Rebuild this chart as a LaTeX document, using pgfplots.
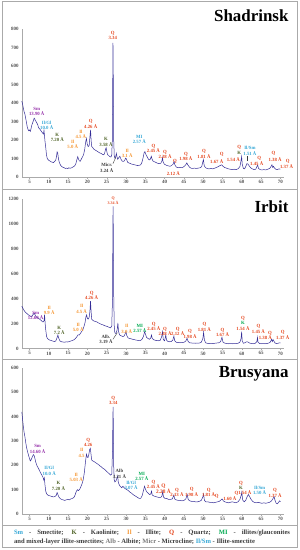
\documentclass[border=0pt]{standalone}
\usepackage{fontspec}
\setmainfont{Liberation Serif}
\usepackage{pgfplots}
\pgfplotsset{compat=1.18}
\definecolor{cLine}{RGB}{52,44,150}
\definecolor{cQ}{RGB}{229,72,32}
\definecolor{cSm}{RGB}{150,50,170}
\definecolor{cCy}{RGB}{55,168,214}
\definecolor{cK}{RGB}{80,100,40}
\definecolor{cIl}{RGB}{245,150,50}
\definecolor{cMI}{RGB}{0,170,80}
\definecolor{cDk}{RGB}{60,60,60}
\definecolor{cAlb}{RGB}{120,120,120}
\definecolor{frame}{RGB}{170,170,170}
\definecolor{axgray}{RGB}{170,170,170}
\definecolor{tickgray}{RGB}{80,80,80}
\pgfplotsset{xrd/.style={scale only axis, width=262.5bp, xmin=3, xmax=71, ymin=0,
  axis x line*=bottom, axis y line*=left,
  axis line style={draw=axgray, line width=0.5bp},
  xtick={5,10,...,70}, tick align=outside, major tick length=2bp,
  xtick style={draw=axgray, line width=0.4bp}, ytick style={draw=none},
  ticklabel style={font=\fontsize{5}{6}\selectfont\bfseries, text=tickgray, inner sep=1bp},
  /pgf/number format/assume math mode=true, /pgf/number format/1000 sep={}, clip=false}}
\tikzset{lbl/.style={align=center, inner sep=0pt, font=\fontsize{4.8}{5.5}\selectfont\bfseries}}
\newcommand{\lab}[5]{\node[lbl,text=#3] at (axis cs:#1,#2) {#4\\#5};}
\newcommand{\labi}[4]{\node[lbl,text=#3] at (axis cs:#1,#2) {#4};}
\begin{document}
\begin{tikzpicture}
\path[use as bounding box] (0,0) rectangle (300bp,550bp);
\draw[frame, line width=0.8bp] (2.5bp,2.5bp) rectangle (297.5bp,548.5bp);
\draw[frame, line width=0.8bp] (2.5bp,361bp) -- (297.5bp,361bp);
\draw[frame, line width=0.8bp] (2.5bp,190.5bp) -- (297.5bp,190.5bp);
\draw[frame, line width=0.8bp] (2.5bp,25bp) -- (297.5bp,25bp);
\node[anchor=base east, font=\fontsize{17}{20}\selectfont\bfseries] at (292bp,528.5bp) {Shadrinsk};
\node[anchor=base east, font=\fontsize{17}{20}\selectfont\bfseries] at (292bp,337.3bp) {Irbit};
\node[anchor=base east, font=\fontsize{17}{20}\selectfont\bfseries] at (292bp,172bp) {Brusyana};
% ---------------- Shadrinsk
\begin{axis}[xrd, at={(21.8bp,373bp)}, anchor=south west, height=148bp, ymax=800, ytick={0,100,...,800}]
\addplot[cLine, line width=0.5bp] coordinates {
(3.0,410)(3.2,395)(3.4,372)(3.6,352)(3.8,340)(4.0,318)(4.2,296)(4.4,272)(4.6,258)(4.8,250)
(5.0,254)(5.2,246)(5.4,262)(5.6,281)(5.8,292)(6.0,305)(6.2,318)(6.35,314)(6.5,305)(6.7,300)
(6.9,292)(7.1,284)(7.3,270)(7.5,262)(7.7,258)(7.9,252)(8.1,246)(8.3,240)(8.45,236)(8.6,232)
(8.75,252)(8.85,230)(9.0,195)(9.2,160)(9.4,118)(9.6,100)(9.8,94)(10.0,90)(10.3,86)(10.6,82)
(10.9,80)(11.2,78)(11.5,84)(11.8,92)(12.0,112)(12.15,136)(12.3,130)(12.5,98)(12.7,80)(12.9,70)
(13.1,62)(13.4,56)(13.7,52)(14.0,50)(14.3,46)(14.6,48)(14.9,45)(15.2,50)(15.5,47)(15.8,49)
(16.1,52)(16.4,56)(16.7,60)(17.0,72)(17.3,96)(17.5,110)(17.7,96)(17.9,88)(18.1,84)(18.4,96)
(18.7,108)(19.0,120)(19.3,150)(19.55,190)(19.75,208)(19.95,178)(20.2,164)(20.45,170)(20.7,230)(20.82,254)
(20.95,200)(21.1,165)(21.4,158)(21.7,150)(22.0,146)(22.3,142)(22.6,138)(22.9,134)(23.2,130)(23.5,128)
(23.8,124)(24.1,120)(24.4,124)(24.7,150)(24.85,158)(25.0,140)(25.2,122)(25.5,116)(25.8,110)(26.1,108)
(26.3,120)(26.45,200)(26.55,500)(26.62,725)(26.72,480)(26.82,190)(26.95,115)(27.1,102)(27.3,108)(27.5,128)
(27.65,110)(27.85,96)(28.1,104)(28.4,112)(28.7,96)(29.0,86)(29.3,84)(29.6,88)(29.9,102)(30.1,98)
(30.4,80)(30.7,76)(31.0,74)(31.4,70)(31.8,68)(32.2,66)(32.6,64)(33.0,62)(33.4,63)(33.8,66)
(34.1,78)(34.4,102)(34.7,132)(34.9,137)(35.1,124)(35.4,112)(35.7,100)(36.0,92)(36.3,96)(36.55,112)
(36.75,96)(37.0,86)(37.4,82)(37.8,78)(38.2,74)(38.6,72)(39.0,74)(39.3,86)(39.45,104)(39.6,82)
(39.9,70)(40.2,66)(40.6,62)(41.0,60)(41.4,58)(41.8,62)(42.2,70)(42.45,84)(42.65,66)(43.0,54)
(43.5,50)(44.0,52)(44.5,50)(45.0,56)(45.4,64)(45.75,76)(46.0,66)(46.4,54)(46.8,48)(47.2,46)
(47.7,48)(48.2,46)(48.7,48)(49.2,50)(49.6,56)(49.85,78)(50.05,94)(50.25,62)(50.6,50)(51.0,46)
(51.5,44)(52.0,46)(52.5,44)(53.0,48)(53.5,52)(54.0,58)(54.4,62)(54.8,66)(55.1,58)(55.5,52)
(56.0,48)(56.5,44)(57.0,42)(57.5,40)(58.0,42)(58.5,40)(59.0,44)(59.5,56)(59.8,90)(59.95,110)
(60.1,70)(60.4,46)(60.7,44)(61.0,56)(61.3,72)(61.6,70)(61.9,60)(62.3,50)(62.7,44)(63.2,40)
(63.6,42)(63.9,56)(64.1,64)(64.3,48)(64.7,40)(65.2,38)(65.7,40)(66.2,38)(66.7,42)(67.2,46)
(67.6,58)(67.8,66)(68.0,52)(68.2,58)(68.4,50)(68.8,42)(69.2,40)(69.6,44)(70.0,42)};
\lab{26.55}{765}{cQ}{Q}{3.34}
\lab{6.87}{354}{cSm}{Sm}{13.90 Å}
\lab{9.45}{279}{cCy}{Il/Gl}{10.0 Å}
\lab{12.2}{213}{cK}{K}{7.20 Å}
\lab{16.2}{177}{cIl}{Il}{5.0 Å}
\lab{18.3}{231}{cIl}{Il}{4.5 Å}
\lab{20.85}{287}{cQ}{Q}{4.26 Å}
\lab{24.8}{190}{cK}{K}{3.58 Å}
\lab{25.0}{50}{cDk}{Micr.}{3.24 Å}
\draw[cDk, line width=0.4bp] (axis cs:26.6,72) -- (axis cs:27.4,108);
\lab{30.3}{127}{cIl}{Il}{3.1 Å}
\lab{33.45}{204}{cCy}{MI}{2.57 Å}
\lab{37.1}{155}{cQ}{Q}{2.45 Å}
\lab{40.1}{123}{cQ}{Q}{2.28 Å}
\labi{42.7}{85}{cQ}{Q}
\labi{42.25}{16}{cQ}{2.12 Å}
\lab{45.5}{112}{cQ}{Q}{1.98 Å}
\lab{50.2}{125}{cQ}{Q}{1.81 Å}
\labi{54.8}{123}{cQ}{Q}
\labi{53.5}{86}{cQ}{1.67 Å}
\labi{59.35}{158}{cQ}{Q}
\labi{59.35}{128}{cK}{K}
\labi{57.8}{92}{cQ}{1.54 Å}
\labi{62.1}{158}{cCy}{Il/Sm}
\labi{62.1}{128}{cCy}{1.51 Å}
\draw[cDk, line width=0.4bp] (axis cs:61.4,112) -- (axis cs:61.4,84);
\labi{64.5}{101}{cQ}{Q}
\labi{63.85}{70}{cQ}{1.45 Å}
\labi{68.2}{128}{cQ}{Q}
\labi{68.6}{92}{cQ}{1.38 Å}
\labi{71.9}{86}{cQ}{Q}
\labi{71.6}{56}{cQ}{1.37 Å}
\end{axis}
% ---------------- Irbit
\begin{axis}[xrd, at={(21.8bp,201.5bp)}, anchor=south west, height=149.5bp, ymax=1200, ytick={0,200,...,1200}]
\addplot[cLine, line width=0.5bp] coordinates {
(3.0,340)(3.3,322)(3.6,305)(3.9,292)(4.2,284)(4.5,276)(4.8,268)(5.1,262)(5.4,256)(5.7,262)
(6.0,276)(6.2,284)(6.4,272)(6.7,256)(7.0,248)(7.3,242)(7.6,236)(7.9,228)(8.2,220)(8.5,212)
(8.75,222)(8.9,272)(9.05,200)(9.2,150)(9.4,100)(9.6,82)(9.9,74)(10.2,68)(10.6,64)(11.0,60)
(11.4,56)(11.8,60)(12.1,84)(12.35,108)(12.6,80)(12.9,60)(13.3,54)(13.7,52)(14.1,50)(14.5,54)
(14.9,52)(15.3,56)(15.7,60)(16.1,64)(16.5,70)(16.9,80)(17.3,96)(17.6,110)(17.9,108)(18.2,122)
(18.5,136)(18.8,150)(19.1,176)(19.4,210)(19.6,252)(19.8,270)(20.0,240)(20.2,236)(20.45,250)(20.65,300)
(20.8,380)(20.95,300)(21.1,236)(21.4,226)(21.7,220)(22.0,218)(22.4,214)(22.8,206)(23.2,200)(23.6,194)
(24.0,190)(24.4,184)(24.8,180)(25.2,176)(25.6,170)(26.0,166)(26.3,180)(26.5,400)(26.6,1000)(26.65,1140)
(26.72,900)(26.8,450)(26.95,180)(27.1,126)(27.4,120)(27.7,150)(27.9,205)(28.05,140)(28.3,110)(28.6,104)
(28.9,100)(29.2,96)(29.5,100)(29.8,120)(30.0,135)(30.2,104)(30.5,86)(30.9,80)(31.3,78)(31.7,74)
(32.1,72)(32.5,68)(32.9,66)(33.3,64)(33.7,64)(34.1,72)(34.5,96)(34.8,134)(35.0,120)(35.3,90)
(35.7,80)(36.1,74)(36.4,84)(36.6,108)(36.8,80)(37.2,70)(37.6,66)(38.0,64)(38.4,62)(38.8,64)
(39.2,90)(39.45,135)(39.65,72)(40.0,62)(40.3,108)(40.5,66)(40.9,56)(41.3,54)(41.7,56)(42.1,66)
(42.4,100)(42.6,62)(43.0,50)(43.5,48)(44.0,46)(44.5,48)(45.0,50)(45.5,60)(45.8,82)(46.1,56)
(46.5,46)(47.0,44)(47.5,44)(48.0,42)(48.5,44)(49.0,44)(49.5,50)(49.9,80)(50.1,130)(50.3,70)
(50.6,46)(51.0,42)(51.5,40)(52.0,42)(52.5,40)(53.0,42)(53.5,44)(54.0,46)(54.5,54)(54.85,90)
(55.1,52)(55.5,44)(56.0,40)(56.5,38)(57.0,40)(57.5,38)(58.0,40)(58.5,40)(59.0,42)(59.5,50)
(59.8,80)(59.95,135)(60.1,62)(60.4,42)(60.8,46)(61.2,54)(61.6,52)(62.0,44)(62.5,40)(63.0,38)
(63.5,42)(63.9,56)(64.05,90)(64.2,50)(64.6,40)(65.0,38)(65.5,40)(66.0,38)(66.5,40)(67.0,44)
(67.4,52)(67.7,74)(67.9,56)(68.1,72)(68.3,60)(68.6,44)(69.0,40)(69.4,42)(69.8,46)(70.0,44)};
\node[lbl, text=cQ, font=\fontsize{4}{4.6}\selectfont\bfseries] at (axis cs:26.65,1185) {Q\\3.34 Å};
\lab{6.6}{264}{cSm}{Sm}{12.60 Å}
\lab{10.1}{306}{cIl}{Il}{9.9 Å}
\lab{12.7}{143}{cK}{K}{7.2 Å}
\lab{17.6}{169}{cIl}{Il}{5.0 Å}
\lab{18.5}{317}{cIl}{Il}{4.5 Å}
\lab{21.1}{425}{cQ}{Q}{4.26 Å}
\lab{24.8}{73}{cDk}{Alb.}{3.19 Å}
\draw[cDk, line width=0.4bp] (axis cs:26.6,74) -- (axis cs:27.75,127);
\lab{30.2}{159}{cIl}{Il}{3.0 Å}
\lab{33.6}{159}{cMI}{MI}{2.57 Å}
\lab{37.2}{175}{cQ}{Q}{2.45 Å}
\lab{40.1}{135}{cQ}{Q}{2.28 Å}
\lab{43.4}{135}{cQ}{Q}{2.12 Å}
\lab{46.6}{118}{cQ}{Q}{1.98 Å}
\lab{50.3}{172}{cQ}{Q}{1.81 Å}
\lab{55.0}{129}{cQ}{Q}{1.67 Å}
\node[lbl] at (axis cs:60.3,203) {\textcolor{cQ}{Q}\\\textcolor{cMI}{K}\\\textcolor{cQ}{1.54 Å}};
\lab{64.3}{156}{cQ}{Q}{1.45 Å}
\labi{67.3}{123}{cQ}{Q}
\labi{66.1}{90}{cQ}{1.38 Å}
\lab{70.6}{109}{cQ}{Q}{1.37 Å}
\end{axis}
% ---------------- Brusyana
\begin{axis}[xrd, at={(21.8bp,36bp)}, anchor=south west, height=146bp, ymax=600, ytick={0,100,...,600}]
\addplot[cLine, line width=0.5bp] coordinates {
(3.0,420)(3.2,390)(3.4,360)(3.6,335)(3.8,318)(4.0,296)(4.2,276)(4.4,262)(4.6,250)(4.8,238)
(5.0,228)(5.2,218)(5.4,222)(5.6,230)(5.8,238)(6.0,244)(6.2,240)(6.4,228)(6.6,214)(6.8,204)
(7.0,196)(7.3,188)(7.6,178)(7.9,168)(8.2,160)(8.5,150)(8.7,140)(8.85,148)(9.0,120)(9.2,94)
(9.4,84)(9.7,78)(10.0,76)(10.4,74)(10.8,72)(11.2,70)(11.6,72)(11.9,76)(12.15,88)(12.35,80)
(12.6,70)(12.9,64)(13.3,60)(13.7,58)(14.1,56)(14.5,58)(14.9,60)(15.3,58)(15.7,62)(16.1,64)
(16.5,68)(16.8,78)(17.1,92)(17.4,100)(17.7,96)(18.0,102)(18.3,112)(18.6,124)(18.9,140)(19.2,170)
(19.5,215)(19.75,246)(19.95,234)(20.15,232)(20.35,244)(20.6,266)(20.75,270)(20.9,250)(21.1,222)(21.4,218)
(21.7,216)(22.0,212)(22.4,208)(22.8,204)(23.2,198)(23.6,194)(24.0,188)(24.4,184)(24.8,178)(25.2,172)
(25.6,166)(26.0,160)(26.3,164)(26.5,260)(26.6,400)(26.65,440)(26.72,360)(26.8,200)(26.95,140)(27.1,132)
(27.4,136)(27.7,150)(27.85,156)(28.0,130)(28.3,118)(28.6,112)(28.9,108)(29.2,114)(29.5,108)(29.8,104)
(30.2,100)(30.6,96)(31.0,90)(31.4,86)(31.8,80)(32.2,76)(32.6,72)(33.0,68)(33.4,64)(33.8,64)
(34.2,76)(34.5,96)(34.8,114)(35.0,104)(35.3,92)(35.7,86)(36.1,80)(36.4,82)(36.6,94)(36.8,78)
(37.2,74)(37.6,72)(38.0,70)(38.5,68)(39.0,68)(39.3,74)(39.5,92)(39.7,70)(40.1,64)(40.5,64)
(41.0,60)(41.5,60)(42.0,62)(42.4,78)(42.6,62)(43.0,58)(43.5,56)(44.0,56)(44.5,54)(45.0,56)
(45.5,62)(45.85,80)(46.1,60)(46.5,54)(47.0,52)(47.5,52)(48.0,50)(48.5,50)(49.0,52)(49.5,56)
(49.9,70)(50.1,82)(50.3,56)(50.7,50)(51.2,50)(51.7,48)(52.2,48)(52.7,46)(53.2,48)(53.7,50)
(54.2,52)(54.6,58)(54.9,62)(55.2,54)(55.6,50)(56.0,48)(56.5,46)(57.0,48)(57.5,50)(58.0,48)
(58.5,46)(59.0,50)(59.5,60)(59.85,78)(60.0,90)(60.2,58)(60.6,50)(61.0,56)(61.4,72)(61.7,80)
(62.0,72)(62.4,60)(62.8,52)(63.2,48)(63.7,46)(64.2,48)(64.7,46)(65.2,44)(65.7,46)(66.2,44)
(66.7,46)(67.2,48)(67.7,54)(68.1,64)(68.35,72)(68.6,56)(68.9,44)(69.2,42)(69.5,48)(69.8,54)(70.0,50)};
\lab{26.7}{466}{cQ}{Q}{3.34}
\lab{7.1}{268}{cSm}{Sm}{14.60 Å}
\lab{18.5}{251}{cIl}{Il}{4.5}
\lab{20.2}{293}{cQ}{Q}{4.26}
\lab{10.1}{178}{cCy}{Il/Gl}{10.0 Å}
\lab{12.5}{116}{cK}{K}{7.20 Å}
\lab{17.1}{150}{cIl}{Il}{5.03 Å}
\lab{28.3}{164}{cDk}{Alb}{3.21 Å}
\lab{31.3}{117}{cCy}{Il/Gl}{3.07 Å}
\lab{34.1}{154}{cMI}{MI}{2.57 Å}
\lab{37.1}{122}{cQ}{Q}{2.45 Å}
\node[lbl, text=cQ, font=\fontsize{5.4}{6}\selectfont\bfseries] at (axis cs:39.7,102) {Q\\2.28 Å};
\lab{43.2}{88}{cQ}{Q}{2.13 Å}
\lab{47.0}{91}{cQ}{Q}{1.98 Å}
\lab{51.4}{88}{cQ}{Q}{1.81 Å}
\labi{53.5}{74}{cQ}{Q}
\labi{56.9}{65}{cQ}{1.60 Å}
\node[lbl] at (axis cs:59.8,118) {\textcolor{cQ}{Q}\\\textcolor{cK}{K}};
\labi{60.3}{85}{cQ}{Q1.54 Å}
\lab{64.6}{98}{cCy}{Il/Sm}{1.50 Å}
\lab{68.6}{87}{cQ}{Q}{1.37 Å}
\end{axis}
% ---------------- legend
\node[anchor=base, font=\fontsize{6.6}{8}\selectfont\bfseries, text=cDk, inner sep=0pt] at (152bp,15.6bp)
 {\makebox[276bp][s]{\textcolor{cCy}{Sm} - Smectite; \textcolor{cK}{K} - Kaolinite; \textcolor{cIl}{Il} - Illite; \textcolor{cQ}{Q} - Quartz; \textcolor{cMI}{MI} - illites/glauconites}};
\node[anchor=base west, font=\fontsize{6.6}{8}\selectfont\bfseries, text=cDk, inner sep=0pt] at (14bp,6.6bp)
 {and mixed-layer illite-smectites; \textcolor{cAlb}{Alb} - Albite; \textcolor{cAlb}{Micr} - Microcline; \textcolor{cCy}{Il/Sm} - Illite-smectite};
\end{tikzpicture}
\end{document}
